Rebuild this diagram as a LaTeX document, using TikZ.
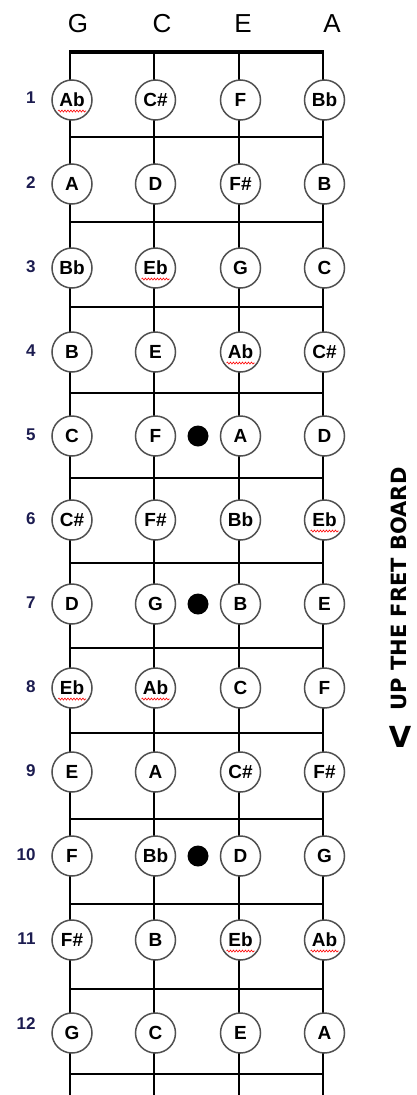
\documentclass[tikz,border=0pt]{standalone}
\usepackage{fontspec}
\setmainfont{Liberation Sans}
\newfontfamily\boardfont{DejaVu Sans}
\usetikzlibrary{decorations.pathmorphing}
\definecolor{numdark}{HTML}{1C1C50}
\definecolor{ringgray}{HTML}{505050}

\begin{document}
\begin{tikzpicture}[x=1pt,y=-1pt,
    note/.style={circle,draw=ringgray,line width=1.5pt,fill=white,minimum size=40pt,inner sep=0pt,font=\bfseries\fontsize{19}{19}\selectfont},
    fretnum/.style={anchor=east,text=numdark,font=\bfseries\fontsize{17}{17}\selectfont},
    dot/.style={circle,fill=black,minimum size=21pt,inner sep=0pt},
    squiggle/.style={red,line width=0.6pt,decorate,decoration={snake,segment length=3pt,amplitude=1pt}}]
  \useasboundingbox (0,0) rectangle (417,1095);
  % open strings and nut
  \foreach \s/\x/\lx in {G/70/78, C/154/162, E/239/243, A/323/332} {
    \node[font=\fontsize{26}{26}\selectfont] (head-\s) at (\lx,24) {\s};
    \coordinate (top-\s) at (\x,52);
    \coordinate (end-\s) at (\x,1095);
    \draw[line width=2pt] (top-\s) -- (end-\s);
  }
  \draw[line width=4.5pt] ([xshift=-1pt]top-G) -- ([xshift=1pt]top-A);
  % frets
  \foreach \k in {0,...,11} {
    \coordinate (fl\k) at (70,137+85.2*\k);
    \coordinate (fr\k) at (323,137+85.2*\k);
    \draw[line width=2pt] (fl\k) -- (fr\k);
  }
  % notes on each fret
  \foreach \r/\y/\ly/\a/\b/\c/\d in {1/100/98/Ab/C\#/F/Bb, 2/184/183/A/D/F\#/B,
      3/268/267/Bb/Eb/G/C, 4/352/351/B/E/Ab/C\#, 5/436/435/C/F/A/D,
      6/520/519/C\#/F\#/Bb/Eb, 7/604/603/D/G/B/E, 8/688/687/Eb/Ab/C/F,
      9/772/771/E/A/C\#/F\#, 10/856/855/F/Bb/D/G, 11/940/939/F\#/B/Eb/Ab,
      12/1033/1024/G/C/E/A} {
    \node[fretnum] (num\r) at (39,\ly) {\r};
    \node[note] (n\r-G) at (72,\y) {\a};
    \node[note] (n\r-C) at (155.5,\y) {\b};
    \node[note] (n\r-E) at (240.5,\y) {\c};
    \node[note] (n\r-A) at (324.5,\y) {\d};
  }
  % position markers
  \foreach \r/\y in {5/436, 7/604, 10/856}
    \node[dot] (dot\r) at (198,\y) {};
  % spell-check marks
  \foreach \m in {1-G, 3-C, 4-E, 6-A, 8-G, 8-C, 11-E, 11-A}
    \draw[squiggle] ([xshift=-14pt,yshift=-11pt]n\m.center) -- ([xshift=14pt,yshift=-11pt]n\m.center);
  % direction label
  \node[rotate=90,font=\boardfont\bfseries\fontsize{21}{21}\selectfont] (upboard) at (399,589) {UP THE FRET BOARD};
  \node[font=\boardfont\bfseries\fontsize{29}{29}\selectfont] (arrowv) at (400,737) {V};
\end{tikzpicture}
\end{document}
